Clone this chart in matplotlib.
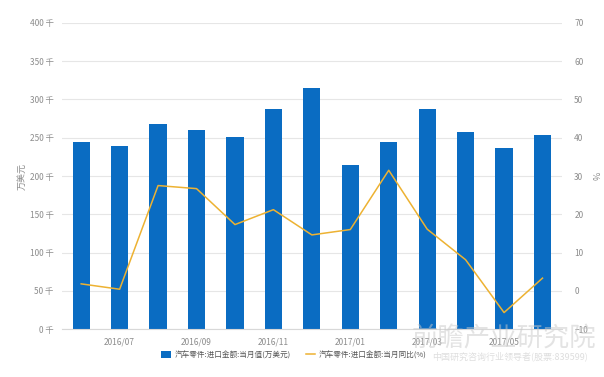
import numpy as np
import matplotlib.pyplot as plt

plt.rcParams['font.family'] = ['Noto Sans CJK SC', 'DejaVu Sans']

# --- data ---
months = ['2016/06', '2016/07', '2016/08', '2016/09', '2016/10', '2016/11', '2016/12',
          '2017/01', '2017/02', '2017/03', '2017/04', '2017/05', '2017/06']
import_value = [244, 239, 268, 260, 251, 287, 315, 215, 244, 287, 257, 236, 253]
yoy_pct = [1.8, 0.4, 27.5, 26.7, 17.3, 21.2, 14.6, 16.0, 31.5, 16.1, 8.1, -5.7, 3.3]

left_ticks = [0, 50, 100, 150, 200, 250, 300, 350, 400]
right_ticks = [-10, 0, 10, 20, 30, 40, 50, 60, 70]

bar_color = '#0A6CC2'
line_color = '#EDB232'
tick_color = '#8C8C8C'

fig = plt.figure(figsize=(6.04, 3.77), dpi=100)
ax = fig.add_axes([0.1026, 0.1273, 0.8274, 0.8117])
ax2 = ax.twinx()

x = np.arange(len(months))
ax.bar(x, import_value, width=0.45, color=bar_color, zorder=2,
       label='汽车零件:进口金额:当月值(万美元)')
ax2.plot(x, yoy_pct, color=line_color, lw=1.1, zorder=3,
         label='汽车零件:进口金额:当月同比(%)')

ax.set_xlim(-0.5, len(months) - 0.5)
ax.set_ylim(0, 400)
ax2.set_ylim(-10, 70)
ax.set_yticks(left_ticks)
ax.set_yticklabels([f'{v} 千' for v in left_ticks])
ax2.set_yticks(right_ticks)
ax.set_xticks(x[1::2])
ax.set_xticklabels(months[1::2])

ax.grid(axis='y', color='#E6E6E6', lw=0.8, zorder=0)
ax.set_axisbelow(True)
for a in (ax, ax2):
    for s in a.spines.values():
        s.set_visible(False)
    a.tick_params(length=0, labelsize=6, colors=tick_color)
ax.spines['bottom'].set_visible(True)
ax.spines['bottom'].set_color('#D8D8D8')
ax.tick_params(axis='x', pad=6)
ax.tick_params(axis='y', pad=6)
ax2.tick_params(axis='y', pad=9)

ax.set_ylabel('万美元', fontsize=6.5, color=tick_color, labelpad=2)
ax2.set_ylabel('%', fontsize=6.5, color=tick_color, labelpad=4)

h1, l1 = ax.get_legend_handles_labels()
h2, l2 = ax2.get_legend_handles_labels()
fig.legend(h1 + h2, l1 + l2, loc='center', bbox_to_anchor=(0.487, 0.058), ncol=2,
           frameon=False, fontsize=5.5, labelcolor='#555555', handlelength=1.2,
           handleheight=0.9, columnspacing=2.0, handletextpad=0.5)

# watermark
fig.text(0.835, 0.10, '前瞻产业研究院', fontsize=19, color='#C8C8C8', alpha=0.5,
         ha='center', va='center')
fig.text(0.845, 0.055, '中国研究咨询行业领导者(股票:839599)', fontsize=6.5,
         color='#C8C8C8', alpha=0.6, ha='center', va='center')

fig.savefig('out.png', dpi=100)
